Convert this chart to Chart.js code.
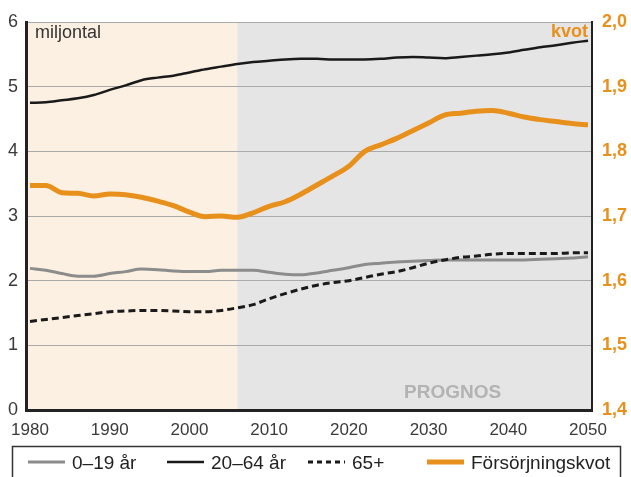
<!DOCTYPE html>
<html lang="sv">

<head>
  <meta charset="UTF-8" />
  <title>Befolkning och försörjningskvot 1980–2050</title>
  <script src="https://cdn.jsdelivr.net/npm/chart.js"></script>
  <style>
    html,
    body {
      margin: 0;
      padding: 0;
      background: white;
    }

    #wrap {
      width: 631px;
      height: 477px;
      position: relative;
    }
  </style>
</head>

<body>
  <div id="wrap">
    <canvas id="popChart" width="631" height="477"></canvas>
  </div>

  <script>
    const years = [1980, 1982, 1984, 1986, 1988, 1990, 1992, 1994, 1996, 1998,
      2000, 2002, 2004, 2006, 2008, 2010, 2012, 2014, 2016, 2018,
      2020, 2022, 2024, 2026, 2028, 2030, 2032, 2034, 2036, 2038,
      2040, 2042, 2044, 2046, 2048, 2050];

    // miljontal
    const age0to19 = [2.19, 2.16, 2.11, 2.07, 2.07, 2.11, 2.14, 2.18, 2.17, 2.15,
      2.14, 2.14, 2.16, 2.16, 2.16, 2.13, 2.10, 2.09, 2.12, 2.16,
      2.20, 2.25, 2.27, 2.29, 2.30, 2.31, 2.32, 2.32, 2.32, 2.32,
      2.32, 2.32, 2.33, 2.34, 2.35, 2.37];
    const age20to64 = [4.75, 4.76, 4.79, 4.82, 4.87, 4.95, 5.02, 5.10, 5.14, 5.17,
      5.22, 5.27, 5.31, 5.35, 5.38, 5.40, 5.42, 5.43, 5.43, 5.42,
      5.42, 5.42, 5.43, 5.45, 5.46, 5.45, 5.44, 5.46, 5.48, 5.50,
      5.53, 5.57, 5.61, 5.64, 5.68, 5.71];
    const age65plus = [1.37, 1.40, 1.43, 1.46, 1.49, 1.52, 1.53, 1.54, 1.54, 1.53,
      1.52, 1.52, 1.54, 1.58, 1.63, 1.72, 1.80, 1.87, 1.93, 1.97,
      2.00, 2.05, 2.10, 2.14, 2.20, 2.27, 2.32, 2.36, 2.38, 2.41,
      2.42, 2.42, 2.42, 2.42, 2.43, 2.43];
    // kvot
    const dependencyRatio = [1.747, 1.747, 1.736, 1.735, 1.731, 1.734, 1.733, 1.729, 1.723, 1.716,
      1.706, 1.699, 1.700, 1.698, 1.705, 1.715, 1.722, 1.734, 1.748, 1.762,
      1.777, 1.800, 1.810, 1.820, 1.832, 1.844, 1.856, 1.859, 1.862, 1.863,
      1.859, 1.853, 1.849, 1.846, 1.843, 1.841];

    const xTicks = [1980, 1990, 2000, 2010, 2020, 2030, 2040, 2050];
    const forecastStart = 2006;

    const ORANGE = "#e8901c";
    const FONT = "'Liberation Sans', Arial, sans-serif";

    const toPoints = arr => arr.map((v, i) => ({ x: years[i], y: v }));

    // background: historic (peach) + prognos (grey)
    const backgroundPlugin = {
      id: "periods",
      beforeDraw(chart) {
        const { ctx, chartArea: a, scales } = chart;
        const xSplit = scales.x.getPixelForValue(forecastStart);
        ctx.save();
        ctx.fillStyle = "#fcf0e2";
        ctx.fillRect(a.left, a.top, xSplit - a.left, a.bottom - a.top);
        ctx.fillStyle = "#e5e5e5";
        ctx.fillRect(xSplit, a.top, a.right - xSplit, a.bottom - a.top);
        ctx.restore();
      }
    };

    // texts inside plot + framed legend at the bottom
    const labelsPlugin = {
      id: "labels",
      afterDraw(chart) {
        const { ctx, chartArea: a } = chart;
        ctx.save();
        ctx.textBaseline = "alphabetic";

        ctx.font = "18px " + FONT;
        ctx.fillStyle = "#333";
        ctx.textAlign = "left";
        ctx.fillText("miljontal", a.left + 9, 38);

        ctx.font = "bold 18px " + FONT;
        ctx.fillStyle = ORANGE;
        ctx.textAlign = "right";
        ctx.fillText("kvot", a.right - 4, 37);

        ctx.font = "bold 19px " + FONT;
        ctx.fillStyle = "#b3b3b3";
        ctx.textAlign = "left";
        ctx.fillText("PROGNOS", 404, 398);

        // legend box
        ctx.strokeStyle = "#333";
        ctx.lineWidth = 1.5;
        ctx.strokeRect(12.5, 446.5, 608, 40);

        const order = [1, 0, 2, 3];
        const startX = [28, 167, 308, 427];
        order.forEach((di, k) => {
          const ds = chart.data.datasets[di];
          const x0 = startX[k];
          ctx.beginPath();
          ctx.strokeStyle = ds.borderColor;
          ctx.lineWidth = ds.borderWidth;
          ctx.setLineDash(ds.borderDash ? [5, 4] : []);
          ctx.moveTo(x0, 462);
          ctx.lineTo(x0 + 37, 462);
          ctx.stroke();
          ctx.setLineDash([]);
          ctx.font = "19px " + FONT;
          ctx.fillStyle = "#222";
          ctx.textAlign = "left";
          ctx.fillText(ds.label, x0 + 44, 469);
        });
        ctx.restore();
      }
    };

    const ctx = document.getElementById("popChart").getContext("2d");
    new Chart(ctx, {
      type: "line",
      data: {
        datasets: [
          {
            label: "20–64 år",
            data: toPoints(age20to64),
            borderColor: "#1a1a1a",
            borderWidth: 2.5,
            yAxisID: "y",
            order: 2
          },
          {
            label: "0–19 år",
            data: toPoints(age0to19),
            borderColor: "#8c8c8c",
            borderWidth: 3,
            yAxisID: "y",
            order: 3
          },
          {
            label: "65+",
            data: toPoints(age65plus),
            borderColor: "#1a1a1a",
            borderWidth: 3,
            borderDash: [7, 4],
            yAxisID: "y",
            order: 1
          },
          {
            label: "Försörjningskvot",
            data: toPoints(dependencyRatio),
            borderColor: ORANGE,
            borderWidth: 5,
            yAxisID: "y1",
            order: 0
          }
        ]
      },
      options: {
        responsive: false,
        animation: false,
        devicePixelRatio: 1,
        layout: { padding: { top: 22, bottom: 37, left: 0, right: 0 } },
        elements: {
          point: { radius: 0 },
          line: { tension: 0.4, cubicInterpolationMode: "monotone", fill: false }
        },
        plugins: {
          legend: { display: false },
          tooltip: { enabled: false },
          title: { display: false }
        },
        scales: {
          x: {
            type: "linear",
            min: 1979.5,
            max: 2050.5,
            afterBuildTicks: scale => {
              scale.ticks = xTicks.map(v => ({ value: v }));
            },
            afterFit: scale => { scale.height = 30; },
            grid: { display: false },
            border: { color: "#222", width: 3 },
            ticks: {
              autoSkip: false,
              maxRotation: 0,
              padding: 2,
              color: "#3a3a3a",
              font: { family: FONT, size: 17 },
              callback: v => String(v)
            }
          },
          y: {
            position: "left",
            min: 0,
            max: 6,
            afterFit: scale => { scale.width = 26; },
            grid: { color: "#aaaaaa", lineWidth: 1, drawTicks: false },
            border: { color: "#222", width: 3 },
            ticks: {
              stepSize: 1,
              padding: 8,
              color: "#3a3a3a",
              font: { family: FONT, size: 18 }
            }
          },
          y1: {
            position: "right",
            min: 1.4,
            max: 2.0,
            afterFit: scale => { scale.width = 39; },
            grid: { display: false, drawTicks: false },
            border: { color: "#222", width: 2 },
            ticks: {
              stepSize: 0.1,
              padding: 10,
              color: ORANGE,
              font: { family: FONT, size: 18, weight: "bold" },
              callback: v => v.toFixed(1).replace(".", ",")
            }
          }
        }
      },
      plugins: [backgroundPlugin, labelsPlugin]
    });
  </script>
</body>

</html>
